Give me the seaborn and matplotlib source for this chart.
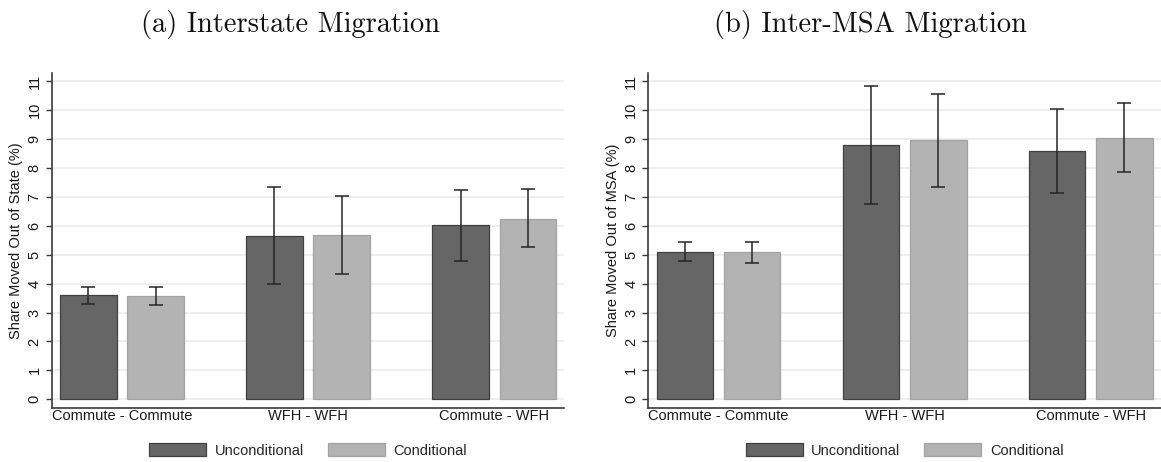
import numpy as np
import pandas as pd
import matplotlib
matplotlib.use("Agg")
import matplotlib.pyplot as plt
import seaborn as sns
from matplotlib.patches import Patch

# Worker commute/WFH transition pairs and the two estimate types
pairs = ["Commute - Commute", "WFH - WFH", "Commute - WFH"]
specs = ["Unconditional", "Conditional"]

# (a) Interstate migration: share moved out of state (%), with 95% CI bounds
state_uncond = [3.60, 5.66, 6.01]
state_uncond_lo = [3.30, 3.97, 4.77]
state_uncond_hi = [3.89, 7.33, 7.25]
state_cond = [3.58, 5.69, 6.25]
state_cond_lo = [3.27, 4.33, 5.25]
state_cond_hi = [3.89, 7.03, 7.27]

# (b) Inter-MSA migration: share moved out of MSA (%), with 95% CI bounds
msa_uncond = [5.11, 8.79, 8.60]
msa_uncond_lo = [4.77, 6.74, 7.13]
msa_uncond_hi = [5.45, 10.84, 10.04]
msa_cond = [5.09, 8.97, 9.05]
msa_cond_lo = [4.72, 7.35, 7.86]
msa_cond_hi = [5.45, 10.56, 10.25]

titles = ["(a) Interstate Migration", "(b) Inter-MSA Migration"]
ylabels = ["Share Moved Out of State (%)", "Share Moved Out of MSA (%)"]
y_ticks = list(range(0, 12))

sns.set_style("white")
plt.rcParams["font.family"] = ["Liberation Sans", "DejaVu Sans"]

FILL = {"Unconditional": "#666666", "Conditional": "#b3b3b3"}
EDGE = {"Unconditional": "#404040", "Conditional": "#a2a2a2"}
AXIS_COLOR = "#3a3a3a"
FS = 10.5

fig = plt.figure(figsize=(11.61, 4.62), dpi=100)
ax_left = fig.add_axes([0.0445, 0.1162, 0.4417, 0.7264])
ax_right = fig.add_axes([0.5584, 0.1162, 0.4416, 0.7264])


def draw_panel(ax, uncond, u_lo, u_hi, cond, c_lo, c_hi, ylabel):
    df = pd.DataFrame({
        "pair": pairs * 2,
        "spec": [specs[0]] * len(pairs) + [specs[1]] * len(pairs),
        "share": uncond + cond,
    })
    sns.barplot(data=df, x="pair", y="share", hue="spec", order=pairs,
                hue_order=specs, palette=FILL, saturation=1, width=0.723,
                gap=0.159, errorbar=None, linewidth=0.9, legend=False,
                ax=ax, zorder=2)

    bounds = [(uncond, u_lo, u_hi), (cond, c_lo, c_hi)]
    for container, spec, (vals, lo, hi) in zip(ax.containers, specs, bounds):
        for p in container:
            p.set_edgecolor(EDGE[spec])
        xs = [p.get_x() + p.get_width() / 2 for p in container]
        vals = np.asarray(vals)
        yerr = [vals - np.asarray(lo), np.asarray(hi) - vals]
        ax.errorbar(xs, vals, yerr=yerr, fmt="none", ecolor="#262626",
                    elinewidth=1.1, capsize=4.7, capthick=1.1, zorder=3)

    ax.set_xlim(-0.377, 2.377)
    ax.set_ylim(-0.31, 11.29)
    ax.set_yticks(y_ticks)
    ax.set_yticklabels([str(t) for t in y_ticks])
    ax.yaxis.grid(True, color="#eaeaea", linewidth=1.1)
    ax.xaxis.grid(False)
    ax.set_axisbelow(True)

    for side in ("top", "right"):
        ax.spines[side].set_visible(False)
    for side in ("left", "bottom"):
        ax.spines[side].set_color(AXIS_COLOR)
        ax.spines[side].set_linewidth(1.2)

    ax.tick_params(axis="y", length=4.1, width=1.0, color=AXIS_COLOR,
                   labelsize=FS, labelcolor="#1a1a1a", pad=3.1,
                   labelrotation=90, left=True)
    for lbl in ax.get_yticklabels():
        lbl.set_va("center")
    ax.tick_params(axis="x", length=0, pad=0.5, labelsize=FS,
                   labelcolor="#1a1a1a")

    ax.set_xlabel("")
    ax.set_ylabel(ylabel, fontsize=FS, color="#1a1a1a")
    ax.yaxis.set_label_coords(-0.055, 0.5)


draw_panel(ax_left, state_uncond, state_uncond_lo, state_uncond_hi,
           state_cond, state_cond_lo, state_cond_hi, ylabels[0])
draw_panel(ax_right, msa_uncond, msa_uncond_lo, msa_uncond_hi,
           msa_cond, msa_cond_lo, msa_cond_hi, ylabels[1])

handles = [Patch(facecolor=FILL[s], edgecolor=EDGE[s], linewidth=0.9)
           for s in specs]
for cx in (308 / 1161, 904.7 / 1161):
    fig.legend(handles, specs, loc="center", bbox_to_anchor=(cx, 0.0255),
               ncol=2, frameon=False, fontsize=FS, handlelength=3.9,
               handleheight=1.03, handletextpad=0.6, columnspacing=1.64,
               borderaxespad=0, borderpad=0)

for cx, title in zip((0.2498, 0.7498), titles):
    fig.text(cx, (462 - 31.7) / 462, title, ha="center", va="baseline",
             fontfamily="cmr10", fontsize=20.5, color="#111111")

fig.savefig("out.png", dpi=100, facecolor="white")
